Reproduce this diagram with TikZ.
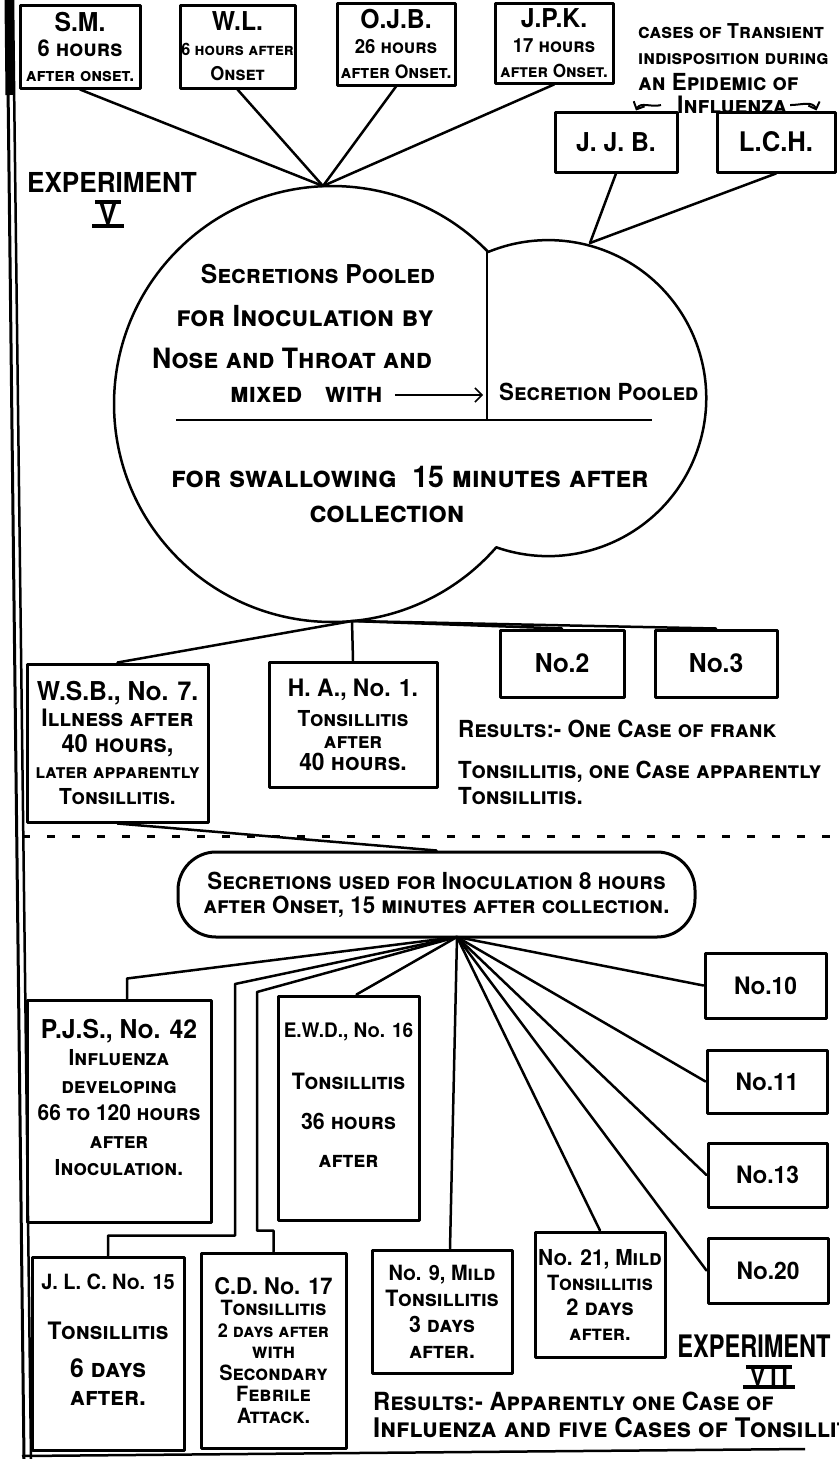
\documentclass[tikz,border=0pt]{standalone}
\usepackage{fontspec}
\usepackage{graphicx}
\setmainfont{TeX Gyre Heros}[FakeStretch=0.95]
\usetikzlibrary{arrows.meta,positioning}
\newcommand{\fnt}[2]{\bfseries\scshape\fontsize{#1}{#2}\selectfont}
\newcommand{\hd}[1]{{\fontsize{26}{28}\selectfont #1}}
\newcommand{\fs}[2]{{\fontsize{#1}{#1}\selectfont #2}}
\tikzset{case/.style={draw,line width=3pt,align=center,inner sep=0pt,font=\fnt{18.5}{25}},
         note/.style={align=left,inner sep=0pt,font=\fnt{28}{30}},
         tie/.style={line width=2.5pt,line cap=round},
         numeral/.style={inner sep=1.5pt,font=\bfseries\fontsize{28}{28}\selectfont}}

\begin{document}
\begin{tikzpicture}[x=1pt,y=1pt,line join=round]
\useasboundingbox (0,0) rectangle (838,-1459);

% margin rules
\draw[line width=3pt] (7,0) -- (24,-1459);
\draw[line width=2.5pt] (13,0) -- (31,-1459);
\draw[line width=9pt] (9,0) -- (10,-95);
\draw[line width=2.5pt] (22,-1456) -- (805,-1449);

% experiment V: donors
\node[case,minimum width=120pt,minimum height=83pt] (sm) at (80,-46.5) {\hd{S.M.}\\\fs{23}{6 hours}\\after onset.};
\node[case,minimum width=115pt,minimum height=83pt,font=\fnt{19}{25}] (wl) at (237.5,-46.5) {\hd{W.L.}\\\fs{17}{6 hours after}\\Onset};
\node[case,minimum width=118pt,minimum height=82pt] (ojb) at (396,-44) {\hd{O.J.B.}\\\fs{19.5}{26 hours}\\after Onset.};
\node[case,minimum width=118pt,minimum height=80pt,font=\fnt{18}{25}] (jpk) at (554,-43) {\hd{J.P.K.}\\\fs{19.5}{17 hours}\\after Onset.};

\node[note,anchor=north west,font=\fnt{20.5}{26}] (transient) at (638,-23) {cases of Transient\\\fs{20}{indisposition during}\\\fs{23.5}{an Epidemic of}};
\node[note,anchor=north west,font=\fnt{24}{26}] (flu) at (677,-96) {Influenza};

\node[case,minimum width=122pt,minimum height=60pt,font=\bfseries\fontsize{26}{28}\selectfont] (jjb) at (616,-142) {J. J. B.};
\node[case,minimum width=118pt,minimum height=60pt,font=\bfseries\fontsize{27}{28}\selectfont] (lch) at (776,-142) {L.C.H.};

\draw[line width=2pt,-{Straight Barb[length=6pt]}] ([xshift=-16pt]flu.west) to[out=195,in=65] ([xshift=20pt]jjb.north);
\draw[line width=2pt,-{Straight Barb[length=6pt]}] ([xshift=3pt]flu.east) to[out=0,in=110] ([xshift=-20pt]lch.north east);

\node[inner sep=0pt,font=\bfseries\fontsize{27.5}{28}\selectfont] (expV) at (112,-182) {EXPERIMENT};
\node[numeral] (numV) at (108,-214) {V};
\draw[line width=3.5pt] ([xshift=-2pt]numV.north west) -- ([xshift=2pt]numV.north east)
      ([xshift=-5pt]numV.south west) -- ([xshift=5pt]numV.south east);

% pooled secretions, two lobes
\coordinate (c1) at (332,-404);
\coordinate (c2) at (548,-398);
\coordinate (vtop) at (323,-186);
\coordinate (rtop) at (590,-243);
\coordinate (vbot) at (352,-621);
\coordinate (divtop) at (487,-252);
\draw[line width=2.5pt] (c1) ++(44.3:218) arc[start angle=44.3,end angle=318.9,radius=218]
      arc[start angle=-109.2,end angle=112.3,radius=158] -- cycle;
\draw[line width=1.8pt] (divtop) -- (487,-420);
\draw[line width=2pt] (176,-420) -- (652,-420);

\foreach \n in {sm,wl,ojb,jpk}
  \draw[tie] (\n.south) -- (vtop);
\draw[tie] (jjb.south) -- (rtop);
\draw[tie] (lch.south) -- (rtop);

\node[note,font=\fnt{26}{30}] (pooled) at (318,-274) {Secretions Pooled};
\node[note,font=\fnt{29}{30}] (inoc) at (305,-316) {for Inoculation by};
\node[note] (nose) at (292,-358) {Nose and Throat and};
\node[note,anchor=west] (mixwith) at (230,-395) {mixed\hspace{0.8em}with};
\node[note,anchor=west,font=\fnt{23.5}{30}] (pooledR) at (499,-392) {Secretion Pooled};
\draw[line width=1.5pt,-{Straight Barb[length=7pt]}] ([xshift=12pt]mixwith.east) -- ([xshift=-4pt]mixwith.east -| divtop);
\node[note,font=\fnt{30}{30}] (swallow) at (410,-477) {for swallowing\ \ 15 minutes after};
\node[note,font=\fnt{30}{30}] (collect) at (387,-514) {collection};

% experiment V: recipients
\node[case,minimum width=181pt,minimum height=158pt,font=\fnt{24}{26}] (wsb) at (117.5,-743) {\hd{W.S.B., No. 7.}\\Illness after\\\fs{25}{40 hours,}\\\fs{20}{later apparently}\\\fs{22}{Tonsillitis.}};
\node[case,minimum width=168pt,minimum height=125pt,font=\fnt{22}{22}] (ha) at (353,-724.5) {\fs{24}{H. A., No. 1.}\\[8pt]Tonsillitis\\after\\\fs{24}{40 hours.}};
\node[case,minimum width=124pt,minimum height=67pt,font=\fnt{26}{28}] (no2) at (562,-663.5) {No.2};
\node[case,minimum width=122pt,minimum height=67pt,font=\fnt{26}{28}] (no3) at (716,-663.5) {No.3};
\foreach \n in {wsb,ha,no2,no3}
  \draw[tie] (vbot) -- (\n.north);

\node[note,anchor=north west,font=\fnt{23.5}{26}] (resV) at (458,-720) {Results:- One Case of frank\\[15pt]Tonsillitis, one Case apparently\\Tonsillitis.};

\draw[line width=3pt,dash pattern=on 8pt off 17pt] (22,-836) -- (838,-836);

% experiment VII
\node[case,rounded corners=38pt,minimum width=517pt,minimum height=85pt,font=\fnt{23.5}{24}] (secr) at (436.5,-894.5) {Secretions used for Inoculation 8 hours\\after Onset, 15 minutes after collection.};
\draw[tie] (wsb.south) -- (secr.north);
\coordinate (fan) at (457,-937);

\node[case,minimum width=184pt,minimum height=222pt,font=\fnt{22}{27.5}] (pjs) at (119,-1111) {\hd{P.J.S., No. 42}\\Influenza\\developing\\66 to 120 hours\\after\\Inoculation.\\~};
\node[case,minimum width=141pt,minimum height=224pt,font=\fnt{22.5}{26}] (ewd) at (348.5,-1108) {\fs{20}{E.W.D., No. 16}\\[26pt]Tonsillitis\\[14pt]36 hours\\[12pt]after\\~};
\node[case,minimum width=121pt,minimum height=65pt,font=\fnt{24}{26}] (no10) at (765.5,-985.5) {No.10};
\node[case,minimum width=120pt,minimum height=63pt,font=\fnt{24}{26}] (no11) at (767,-1081.5) {No.11};
\node[case,minimum width=119pt,minimum height=64pt,font=\fnt{24}{26}] (no13) at (767.5,-1175) {No.13};
\node[case,minimum width=120pt,minimum height=65pt,font=\fnt{24}{26}] (no20) at (768,-1270.5) {No.20};

\node[case,minimum width=152pt,minimum height=193pt,font=\fnt{24}{28}] (jlc) at (108,-1353.5) {\fs{21}{J. L. C. No. 15}\\[22pt]Tonsillitis\\[10pt]\fs{26}{6 days}\\\fs{26}{after.}\\~};
\node[case,minimum width=145pt,minimum height=195pt,font=\fnt{21}{21.5}] (cd) at (273.5,-1350.5) {\fs{23}{C.D. No. 17}\\Tonsillitis\\\fs{19}{2 days after}\\with\\Secondary\\Febrile\\Attack.};
\node[case,minimum width=140pt,minimum height=123pt,font=\fnt{22.5}{26}] (no9) at (442,-1311.5) {\fs{21}{No. 9, Mild}\\Tonsillitis\\3 days\\after.};
\node[case,minimum width=130pt,minimum height=125pt,font=\fnt{21}{25}] (no21) at (600,-1294.5) {\fs{22}{No. 21, Mild}\\Tonsillitis\\\fs{23}{2 days}\\after.};

\coordinate (jlcbend) at (235,-984);
\coordinate (cdbend) at (257,-992);
\draw[tie] ([xshift=8pt]pjs.north) -- ++(0,20) -- (fan);
\draw[tie] (fan) -- (jlcbend) |- ([yshift=20pt]jlc.north) -- (jlc.north);
\draw[tie] (fan) -- (cdbend) |- ([yshift=21pt]cd.north) -- (cd.north);
\draw[tie] (fan) -- ([xshift=8pt]ewd.north);
\draw[tie] (fan) -- ([xshift=8pt]no9.north);
\draw[tie] (fan) -- (no21.north);
\foreach \n in {no10,no11,no13,no20}
  \draw[tie] (fan) -- (\n.west);

\node[inner sep=0pt,font=\bfseries\fontsize{31}{31}\selectfont] (expVII) at (754,-1346) {\scalebox{0.8}[1]{EXPERIMENT}};
\node[numeral,inner sep=1pt,font=\bfseries\fontsize{24}{24}\selectfont] (numVII) at (769,-1377) {V\kern5pt I\kern5pt I};
\draw[line width=3.5pt] ([xshift=-3pt]numVII.north west) -- ([xshift=3pt]numVII.north east)
      ([xshift=-6pt]numVII.south west) -- ([xshift=6pt]numVII.south east);

\node[note,anchor=north west,font=\fnt{25}{27}] (resVII) at (373,-1392) {Results:- Apparently one Case of\\\fs{27}{Influenza and five Cases of Tonsillitis}};
\end{tikzpicture}
\end{document}
